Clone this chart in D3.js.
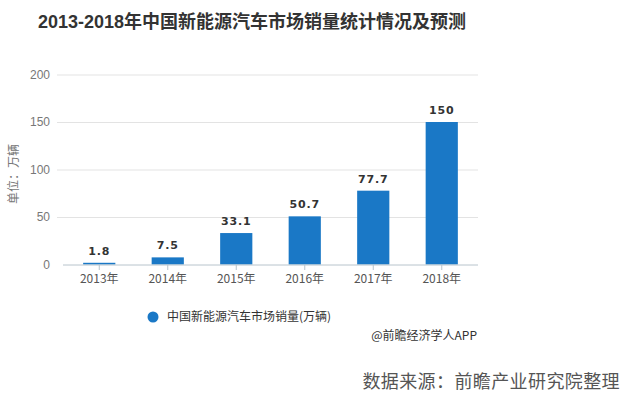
<!DOCTYPE html>
<html><head><meta charset="utf-8">
<script src="https://cdn.jsdelivr.net/npm/d3@7/dist/d3.min.js"></script>
<style>body{margin:0;background:#fff;}svg{display:block;font-family:"Noto Sans CJK SC","Microsoft YaHei",sans-serif;}</style>
</head><body>
<svg id="c" width="625" height="399"></svg>
<script>
const categories = ["2013年","2014年","2015年","2016年","2017年","2018年"];
const values = [1.8, 7.5, 33.1, 50.7, 77.7, 150];
const valueLabels = ["1.8","7.5","33.1","50.7","77.7","150"];
const yTicks = [0, 50, 100, 150, 200];
const seriesName = "中国新能源汽车市场销量(万辆)";

const svg = d3.select("#c");
const x = d3.scaleBand().domain(categories).range([65, 476]).paddingInner(0.53).paddingOuter(0.265);
const y = d3.scaleLinear().domain([0, 200]).range([264.5, 74.5]);
const color = "#1a78c6";

svg.append("text").attr("x", 38).attr("y", 28).attr("font-size", 18).attr("font-weight", "bold")
  .attr("font-family", "'Liberation Sans', 'Noto Sans CJK SC', sans-serif")
  .attr("fill", "#333").text("2013-2018年中国新能源汽车市场销量统计情况及预测");

// grid
svg.append("g").selectAll("line").data(yTicks.filter(d => d > 0)).join("line")
  .attr("x1", 57).attr("x2", 478).attr("y1", d => y(d) + 0.5).attr("y2", d => y(d) + 0.5)
  .attr("stroke", "#e3e3e3").attr("stroke-width", 1);

// y labels
svg.append("g").selectAll("text").data(yTicks).join("text")
  .attr("x", 50).attr("y", d => y(d)).attr("dy", "0.35em").attr("text-anchor", "end")
  .attr("font-size", 12).attr("fill", "#777").attr("font-family", "Arial, Liberation Sans, sans-serif").text(d => d);

svg.append("text").attr("transform", "translate(18,174) rotate(-90)").attr("text-anchor", "middle")
  .attr("font-size", 12).attr("fill", "#777").text("单位：万辆");

// bars
svg.append("g").selectAll("rect").data(values).join("rect")
  .attr("x", (d, i) => x(categories[i])).attr("width", x.bandwidth())
  .attr("y", d => y(d)).attr("height", d => y(0) - y(d)).attr("fill", color);

// value labels
svg.append("g").selectAll("text").data(values).join("text")
  .attr("x", (d, i) => x(categories[i]) + x.bandwidth() / 2).attr("y", d => y(d) - 8)
  .attr("text-anchor", "middle").attr("font-size", 11).attr("font-weight", "bold")
  .attr("letter-spacing", 0.8).attr("fill", "#333").attr("font-family", "'DejaVu Sans', sans-serif")
  .text((d, i) => valueLabels[i]);

// x axis
const xAxis = d3.axisBottom(x).tickSize(5).tickSizeOuter(0).tickPadding(4);
const gx = svg.append("g").attr("transform", `translate(0,${y(0) + 0.5})`).call(xAxis);
gx.select(".domain").attr("stroke", "#b8c4cc").attr("d", "M63,0H478");
gx.selectAll(".tick line").attr("stroke", "#b8c4cc");
gx.selectAll(".tick text").attr("font-size", 12).attr("fill", "#555").attr("font-family", "Noto Sans CJK SC, sans-serif");

// legend
svg.append("circle").attr("cx", 153).attr("cy", 317).attr("r", 5.5).attr("fill", color);
svg.append("text").attr("x", 167).attr("y", 317).attr("dy", "0.35em").attr("font-size", 12)
  .attr("fill", "#333").text(seriesName);

svg.append("text").attr("x", 477).attr("y", 336).attr("dy", "0.35em").attr("text-anchor", "end")
  .attr("font-size", 12).attr("fill", "#333").text("@前瞻经济学人APP");

svg.append("text").attr("x", 620).attr("y", 382).attr("dy", "0.35em").attr("text-anchor", "end")
  .attr("font-size", 18).attr("fill", "#555").attr("letter-spacing", 0.4).text("数据来源：前瞻产业研究院整理");
</script>
</body></html>
